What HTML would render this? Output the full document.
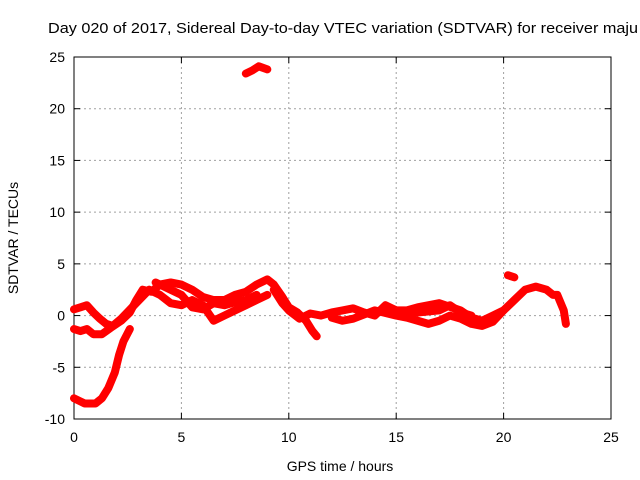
<!DOCTYPE html>
<html><head><meta charset="utf-8"><style>
body{margin:0;background:#fff;}
svg{display:block;font-family:"Liberation Sans",sans-serif;}
</style></head><body>
<svg id="chart" width="640" height="480">
<text x="48" y="33" font-size="15" textLength="590" lengthAdjust="spacingAndGlyphs">Day 020 of 2017, Sidereal Day-to-day VTEC variation (SDTVAR) for receiver maju</text>
<g id="grid"></g><g id="axes"></g><g id="series"></g>
<text x="340" y="471" font-size="14" text-anchor="middle">GPS time / hours</text>
<text transform="translate(18,238) rotate(-90)" font-size="14" text-anchor="middle">SDTVAR / TECUs</text>
</svg>
<script>
const xTicks=[0,5,10,15,20,25];
const yTicks=[-10,-5,0,5,10,15,20,25];
const seriesA=[[0,-8.0],[0.3,-8.3],[0.5,-8.5],[1.0,-8.5],[1.3,-8.0],[1.6,-7.0],[1.9,-5.5],[2.1,-3.8],[2.3,-2.5],[2.6,-1.3]];
const seriesB=[[0,-1.3],[0.3,-1.5],[0.6,-1.3],[0.9,-1.8],[1.3,-1.8],[1.7,-1.2],[2.2,-0.5],[2.6,0.3],[2.9,1.5],[3.2,2.5],[3.6,2.3],[4.0,3.0],[4.5,3.2],[5.0,3.0],[5.5,2.5],[6.0,1.8],[6.5,1.5],[7.0,1.5],[7.5,2.0],[8.0,2.3],[8.5,3.0],[9.0,3.5],[9.3,3.0],[9.7,1.8],[10.0,0.8],[10.4,0.3],[10.8,-0.5],[11.1,-1.5],[11.3,-2.0]];
const seriesC=[[0,0.6],[0.3,0.8],[0.6,1.0],[0.9,0.3],[1.2,-0.3],[1.5,-0.8],[1.8,-1.0],[2.2,-0.3],[2.8,1.0],[3.5,2.5],[4.0,2.0],[4.5,1.2],[5.0,1.0],[5.5,1.5],[6.0,1.0],[6.5,-0.5],[7.0,0.0],[7.5,0.5],[8.0,1.0],[8.5,1.5],[9.0,2.0]];
const seriesD=[[3.8,3.2],[4.5,2.5],[5.0,2.0],[5.5,0.8],[6.0,0.6],[6.5,1.2],[7.0,1.0],[7.5,1.3],[8.0,1.5],[8.5,2.0]];
const seriesE=[[9.3,2.5],[9.7,1.2],[10.0,0.5],[10.5,-0.3],[11.0,0.2],[11.5,0.0],[12.0,0.3],[12.5,0.5],[13.0,0.7],[13.5,0.3],[14.0,0.0],[14.5,1.0],[15.0,0.5],[15.5,0.5],[16.0,0.8],[17.0,1.2],[18.0,0.5],[18.5,-0.2],[19.0,-0.5],[19.5,0.0],[20.0,0.5],[20.5,1.5],[21.0,2.5],[21.5,2.8],[22.0,2.5],[22.3,2.0],[22.5,2.0],[22.8,0.5],[22.9,-0.8]];
const seriesF=[[12.0,-0.2],[12.5,-0.5],[13.0,-0.3],[14.0,0.5],[15.0,0.0],[15.5,-0.2],[16.0,-0.5],[16.5,-0.8],[17.0,-0.5],[17.5,0.0],[18.0,-0.3],[18.5,-0.8],[19.0,-1.0],[19.5,-0.6],[20.0,0.5]];
const seriesG=[[15.0,0.5],[16.0,0.3],[17.0,0.5],[17.5,1.0],[18.0,0.3],[18.5,0.0]];
const seriesH=[[8.0,23.4],[8.3,23.7],[8.6,24.1],[9.0,23.8]];
const seriesI=[[20.2,3.9],[20.5,3.7]];
const allSeries=[seriesA,seriesB,seriesC,seriesD,seriesE,seriesF,seriesG,seriesH,seriesI];
const X0=74,X1=611,Y0=419,Y1=57;
const sx=v=>X0+(v-0)/(25-0)*(X1-X0);
const sy=v=>Y0-(v+10)/35*(Y0-Y1);
const NS='http://www.w3.org/2000/svg';
function mk(t,a,p){const e=document.createElementNS(NS,t);for(const k in a)e.setAttribute(k,a[k]);p.appendChild(e);return e;}
const grid=document.getElementById('grid'),axes=document.getElementById('axes'),ser=document.getElementById('series');
xTicks.forEach(t=>{
 const x=sx(t);
 if(t>0&&t<25){const g=mk('line',{x1:x,y1:Y1,x2:x,y2:Y0,stroke:'#a0a0a0','stroke-dasharray':'2,3'},grid);
 }
 mk('line',{x1:x,y1:Y0,x2:x,y2:Y0-6,stroke:'#000'},axes);
 mk('line',{x1:x,y1:Y1,x2:x,y2:Y1+6,stroke:'#000'},axes);
 const l=mk('text',{x:x,y:Y0+23,'font-size':14,'text-anchor':'middle'},axes);l.textContent=t;
 
});
yTicks.forEach(t=>{
 const y=sy(t);
 if(t>-10&&t<25){const g=mk('line',{x1:X0,y1:y,x2:X1,y2:y,stroke:'#a0a0a0','stroke-dasharray':'2,3'},grid);
 }
 mk('line',{x1:X0,y1:y,x2:X0+6,y2:y,stroke:'#000'},axes);
 mk('line',{x1:X1,y1:y,x2:X1-6,y2:y,stroke:'#000'},axes);
 const l=mk('text',{x:X0-9,y:y+5,'font-size':14,'text-anchor':'end'},axes);l.textContent=t;
 
});
const fr=mk('rect',{x:X0,y:Y1,width:X1-X0,height:Y0-Y1,fill:'none',stroke:'#000'},axes);

allSeries.forEach((s,i)=>{
 const p=mk('polyline',{points:s.map(d=>sx(d[0])+','+sy(d[1])).join(' '),fill:'none',stroke:'#ff0000','stroke-width':8,'stroke-linejoin':'round','stroke-linecap':'round'},ser);
 
 
});
</script>
</body></html>
